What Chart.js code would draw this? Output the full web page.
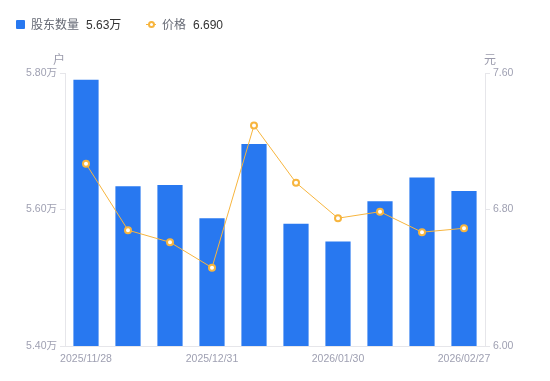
<!DOCTYPE html>
<html>
<head>
<meta charset="utf-8">
<script src="https://cdn.jsdelivr.net/npm/chart.js@4/dist/chart.umd.min.js"></script>
<style>
  html,body{margin:0;padding:0;background:#fff;}
  #wrap{position:relative;width:550px;height:381px;font-family:"Liberation Sans","Noto Sans CJK SC",sans-serif;}
  canvas{position:absolute;left:0;top:0;}
  .lg{position:absolute;top:17px;font-size:12px;line-height:16px;white-space:nowrap;}
  .lg .n{color:#666a75;}
  .lg .v{color:#333;margin-left:7px;}
  .unit{position:absolute;top:50px;font-size:12px;color:#9a9aab;}
</style>
</head>
<body>
<div id="wrap">
  <canvas id="c" width="550" height="381"></canvas>
  <div class="lg" style="left:16px;"><span style="display:inline-block;width:9px;height:9px;background:#2878f0;border-radius:1px;margin-right:6px;vertical-align:-0px;"></span><span class="n">股东数量</span><span class="v">5.63万</span></div>
  <div class="lg" style="left:146px;"><span style="display:inline-block;position:relative;width:10px;height:9px;margin-right:6px;"><span style="position:absolute;left:0;top:4px;width:10px;height:1px;background:#f7b53e;"></span><span style="position:absolute;left:2px;top:1px;width:3px;height:3px;border:2px solid #f7b53e;border-radius:50%;background:#fff;"></span></span><span class="n">价格</span><span class="v">6.690</span></div>
  <div class="unit" style="left:53px;">户</div>
  <div class="unit" style="left:484px;">元</div>
</div>
<script>
const dates = ["2025/11/28","2025/12/10","2025/12/19","2025/12/31","2026/01/09","2026/01/20","2026/01/30","2026/02/10","2026/02/13","2026/02/27"];
const holders = [5.790, 5.634, 5.636, 5.587, 5.696, 5.579, 5.553, 5.612, 5.647, 5.627];
const prices = [7.068, 6.679, 6.608, 6.459, 7.293, 6.957, 6.749, 6.787, 6.667, 6.690];
const shownLabels = ["2025/11/28","2025/12/31","2026/01/30","2026/02/27"];
const leftTicks = [5.40, 5.60, 5.80];
const rightTicks = [6.00, 6.80, 7.60];

const tickColor = '#9fa0b2';
const lineCol = '#e6e6ea';
const fontFam = '"Liberation Sans","Noto Sans CJK SC",sans-serif';

new Chart(document.getElementById('c'), {
  data: {
    labels: dates,
    datasets: [
      {
        type: 'line', label: '价格', data: prices, yAxisID: 'y1', order: 0,
        borderColor: '#f7b53e', borderWidth: 1, tension: 0,
        pointRadius: 3, pointBorderWidth: 2, pointBackgroundColor: '#fff', pointBorderColor: '#f7b53e'
      },
      {
        type: 'bar', label: '股东数量', data: holders, yAxisID: 'y', order: 1,
        backgroundColor: '#2878f0', categoryPercentage: 1, barPercentage: 0.6
      }
    ]
  },
  options: {
    responsive: false, animation: false,
    layout: { padding: { top: 73, bottom: 0, left: 0, right: 0 } },
    plugins: { legend: { display: false }, tooltip: { enabled: false } },
    scales: {
      x: {
        grid: { display: false, drawTicks: false },
        border: { color: lineCol },
        ticks: {
          color: tickColor, font: { family: fontFam, size: 10.5 }, maxRotation: 0, autoSkip: false, padding: 7,
          callback: function(v, i) { const l = dates[i]; return shownLabels.includes(l) ? l : ''; }
        },
        afterFit: s => { s.height = 35; }
      },
      y: {
        position: 'left', min: 5.4, max: 5.8,
        grid: { drawOnChartArea: false, color: lineCol, tickLength: 5 },
        border: { color: lineCol },
        afterBuildTicks: s => { s.ticks = leftTicks.map(v => ({ value: v })); },
        ticks: { color: tickColor, font: { family: fontFam, size: 10.5 }, padding: 3,
          callback: v => Number(v).toFixed(2) + '万' },
        afterFit: s => { s.width = 65; }
      },
      y1: {
        position: 'right', min: 6.0, max: 7.6,
        grid: { drawOnChartArea: false, color: lineCol, tickLength: 5 },
        border: { color: lineCol },
        afterBuildTicks: s => { s.ticks = rightTicks.map(v => ({ value: v })); },
        ticks: { color: tickColor, font: { family: fontFam, size: 10.5 }, padding: 3,
          callback: v => Number(v).toFixed(2) },
        afterFit: s => { s.width = 65; }
      }
    }
  }
});
</script>
</body>
</html>
